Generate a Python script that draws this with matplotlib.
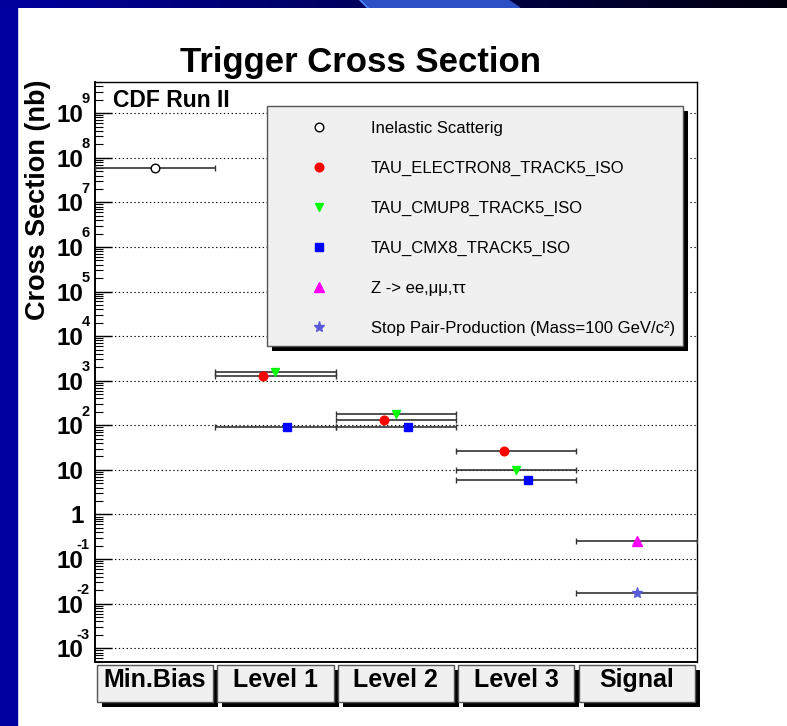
#!/usr/bin/env python3
"""Trigger cross sections (CDF Run II tau triggers) drawn ROOT-style on a log axis."""

import matplotlib
matplotlib.use('Agg')  # headless
import matplotlib.pyplot as plt
import matplotlib.transforms as mtransforms
from matplotlib.patches import Rectangle, Polygon
from matplotlib.ticker import LogLocator, NullFormatter, FixedLocator
import numpy as np

plt.rcParams['font.family'] = ['Liberation Sans', 'DejaVu Sans']

W, H = 787, 726  # output size in pixels (dpi 100)

CATEGORIES = ['Min.Bias', 'Level 1', 'Level 2', 'Level 3', 'Signal']

# x = trigger-level bin + position inside the bin, y = cross section in nb
INELASTIC_X = [0.5]
INELASTIC_Y = [6.0e7]
ELECTRON_X = [1.4, 2.4, 3.4]
ELECTRON_Y = [1.3e3, 130.0, 26.0]
CMUP_X = [1.5, 2.5, 3.5]
CMUP_Y = [1.55e3, 180.0, 10.0]
CMX_X = [1.6, 2.6, 3.6]
CMX_Y = [90.0, 90.0, 5.8]
ZTAU_X = [4.5]
ZTAU_Y = [0.25]
STOP_X = [4.5]
STOP_Y = [0.017]

DECADES = [-3, -2, -1, 0, 1, 2, 3, 4, 5, 6, 7, 8, 9]
YTICK_LABELS = ['10', '10', '10', '1', '10', '10', '10', '10', '10', '10', '10', '10', '10']
YTICK_EXPONENTS = ['-3', '-2', '-1', '', '', '2', '3', '4', '5', '6', '7', '8', '9']


def fx(x):
    return x / W


def fy(y):
    return 1 - y / H


fig = plt.figure(figsize=(W / 100, H / 100), dpi=100)
fig.patch.set_facecolor('white')

# slide decoration: blue strip on the left, gradient bar on top
fig.add_artist(Rectangle((0, 0), fx(17), 1, transform=fig.transFigure,
                         color='#0000a0', zorder=0))
deco = fig.add_axes([0, fy(8), 1, 8 / H])
grad = np.zeros((2, W, 3))
grad[:, :, 2] = np.linspace(160, 14, W)[None, :] / 255
deco.imshow(grad, aspect='auto', extent=(0, W, 8, 0))
deco.add_patch(Polygon([(360, 0), (508, 0), (520, 8), (368, 8)], closed=True,
                       color='#2b50c4'))
deco.plot([360, 368], [0, 8], color='#4a86ff', lw=1.2)
deco.set_xlim(0, W)
deco.set_ylim(8, 0)
deco.axis('off')

ax = fig.add_axes([fx(94.7), fy(661.7), (696.7 - 94.7) / W, (661.7 - 82) / H])
ax.set_yscale('log')
ax.set_xlim(0, len(CATEGORIES))
ax.set_ylim(5e-4, 5e9)

series = [
    (INELASTIC_X, INELASTIC_Y, 'Inelastic Scatterig',
     dict(marker='o', ms=6.2, mfc='white', mec='black', mew=1.0)),
    (ELECTRON_X, ELECTRON_Y, 'TAU_ELECTRON8_TRACK5_ISO',
     dict(marker='o', ms=6.2, mfc='#ff0000', mec='#ff0000')),
    (CMUP_X, CMUP_Y, 'TAU_CMUP8_TRACK5_ISO',
     dict(marker='v', ms=6.2, mfc='#00ff00', mec='#00ff00')),
    (CMX_X, CMX_Y, 'TAU_CMX8_TRACK5_ISO',
     dict(marker='s', ms=6.0, mfc='#0000ff', mec='#0000ff')),
    (ZTAU_X, ZTAU_Y, 'Z -> ee,μμ,ττ',
     dict(marker='^', ms=7.0, mfc='#ff00ff', mec='#ff00ff')),
    (STOP_X, STOP_Y, 'Stop Pair-Production (Mass=100 GeV/c²)',
     dict(marker='*', ms=8.0, mfc='#5a5ad6', mec='#5a5ad6')),
]

for xs, ys, label, style in series:
    xs = np.asarray(xs, dtype=float)
    ys = np.asarray(ys, dtype=float)
    lo = xs - np.floor(xs)
    hi = np.floor(xs) + 1 - xs
    ax.errorbar(xs, ys, xerr=[lo, hi], fmt='none', ecolor='#333333',
                elinewidth=1.2, capsize=2.2, capthick=1.0, zorder=3)
    ax.plot(xs, ys, ls='none', label=label, zorder=4, **style)

# y axis, ROOT look: inward ticks, dotted decade grid
ax.yaxis.set_major_locator(FixedLocator([10.0 ** d for d in DECADES]))
ax.yaxis.set_minor_locator(LogLocator(base=10, subs=np.arange(2, 10), numticks=100))
ax.yaxis.set_minor_formatter(NullFormatter())
ax.set_yticklabels(YTICK_LABELS, fontsize=17.5, fontweight='bold')
ax.tick_params(axis='y', which='major', direction='in', length=12, width=1.0,
               pad=8.0, right=False)
ax.tick_params(axis='y', which='minor', direction='in', length=6, width=0.8,
               right=False)
ax.set_xticks([])
ax.grid(True, axis='y', which='major', color='black', lw=0.8, ls=(0, (1.2, 2.3)))
for side, lw in (('left', 1.4), ('bottom', 1.4), ('top', 1.0), ('right', 1.0)):
    ax.spines[side].set_linewidth(lw)

exp_tr = (mtransforms.blended_transform_factory(ax.transAxes, ax.transData)
          + mtransforms.ScaledTranslation(-5 / 100, 13.7 / 100, fig.dpi_scale_trans))
for d, e in zip(DECADES, YTICK_EXPONENTS):
    if e:
        ax.text(0, 10.0 ** d, e, transform=exp_tr, ha='right', va='center',
                fontsize=10.5, fontweight='bold')

# legend: grey box with a hard black shadow
lx0, lx1 = (267.3 - 94.7) / 602, (682.7 - 94.7) / 602
ly0, ly1 = (661.7 - 346) / 579.7, (661.7 - 106) / 579.7
ax.add_patch(Rectangle((lx0 + 5 / 602, ly0 - 5 / 579.7), lx1 - lx0, ly1 - ly0,
                       transform=ax.transAxes, facecolor='black', edgecolor='none',
                       zorder=5))
ax.add_patch(Rectangle((lx0, ly0), lx1 - lx0, ly1 - ly0, transform=ax.transAxes,
                       facecolor='#f0f0f0', edgecolor='#555555', lw=1.0, zorder=5.1))
leg = ax.legend(loc='upper left', bbox_to_anchor=(lx0, ly1), frameon=False,
                fontsize=12, numpoints=1, borderaxespad=0, borderpad=0.88,
                handlelength=4.48, handletextpad=0.86, labelspacing=1.5)
leg.set_zorder(6)

# category "buttons" under the x axis
btn_tr = mtransforms.blended_transform_factory(ax.transData, fig.transFigure)
for i, name in enumerate(CATEGORIES):
    x0 = i + 2.3 / 120.4
    w = 1 - 4.3 / 120.4
    ax.add_patch(Rectangle((x0 + 5 / 120.4, fy(707)), w, 37 / H, transform=btn_tr,
                           facecolor='black', edgecolor='none', clip_on=False, zorder=5))
    ax.add_patch(Rectangle((x0, fy(702)), w, 37 / H, transform=btn_tr,
                           facecolor='#f0f0f0', edgecolor='#555555', lw=1.0,
                           clip_on=False, zorder=5.1))
    ax.text(i + 0.5, fy(686.7), name, transform=btn_tr, ha='center', va='baseline',
            fontsize=18, fontweight='bold', zorder=6)

fig.text(fx(360), fy(71.7), 'Trigger Cross Section', ha='center', va='baseline',
         fontsize=25, fontweight='bold')
fig.text(fx(112.7), fy(107.3), 'CDF Run II', ha='left', va='baseline',
         fontsize=16.5, fontweight='bold')
fig.text(fx(38.5), fy(80), 'Cross Section (nb)', rotation=90, ha='center', va='top',
         fontsize=19.5, fontweight='bold')

fig.savefig('out.png', dpi=100, facecolor='white')
plt.close(fig)
